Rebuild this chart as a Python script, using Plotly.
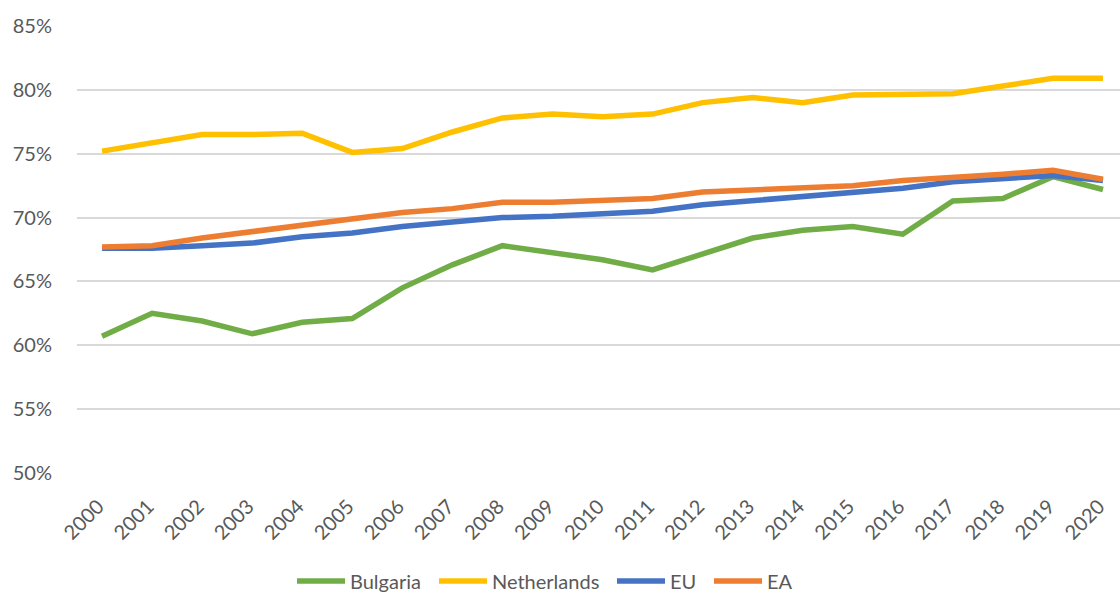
import plotly.graph_objects as go

years = list(range(2000, 2021))

bulgaria = [60.7, 62.5, 61.9, 60.9, 61.8, 62.1, 64.5, 66.3, 67.8, 67.2, 66.7,
            65.9, 67.1, 68.4, 69.0, 69.3, 68.7, 71.3, 71.5, 73.2, 72.2]
netherlands = [75.2, 75.9, 76.5, 76.5, 76.6, 75.1, 75.4, 76.7, 77.8, 78.1, 77.9,
               78.1, 79.0, 79.4, 79.0, 79.6, 79.7, 79.7, 80.3, 80.9, 80.9]
eu = [67.6, 67.6, 67.8, 68.0, 68.5, 68.8, 69.3, 69.6, 70.0, 70.1, 70.3,
      70.5, 71.0, 71.3, 71.7, 71.9, 72.3, 72.8, 73.0, 73.3, 72.9]
ea = [67.7, 67.8, 68.4, 68.9, 69.4, 69.8, 70.4, 70.7, 71.2, 71.2, 71.3,
      71.5, 72.0, 72.2, 72.4, 72.5, 72.9, 73.1, 73.4, 73.7, 73.0]

y_ticks = [50, 55, 60, 65, 70, 75, 80, 85]
y_tick_labels = [f"{v}%" for v in y_ticks]

series_names = ["Bulgaria", "Netherlands", "EU", "EA"]
series_values = [bulgaria, netherlands, eu, ea]
series_colors = ["#70AD47", "#FFC000", "#4472C4", "#ED7D31"]

FONT = "Lato, Carlito, Calibri, sans-serif"
TEXT = "#595959"

W, H = 1120, 593
M_L, M_R, M_T, M_B = 77, 0, 26, 120
PLOT_W = W - M_L - M_R
PLOT_H = H - M_T - M_B


def px_to_paper(px, py):
    """Convert page pixel position to paper coordinates of the plot area."""
    return (px - M_L) / PLOT_W, (H - M_B - py) / PLOT_H


fig = go.Figure()
for name, vals, color in zip(series_names, series_values, series_colors):
    fig.add_trace(go.Scatter(
        x=years, y=vals, name=name, mode="lines",
        line=dict(color=color, width=5.5, shape="linear"),
        showlegend=False,
    ))

# Legend row below the axis: a short thick line sample followed by the name
legend_starts = [297, 439, 617, 714]
legend_y = 581
sample_len = 48
for name, color, x0 in zip(series_names, series_colors, legend_starts):
    ax0, ay = px_to_paper(x0, legend_y)
    ax1, _ = px_to_paper(x0 + sample_len, legend_y)
    fig.add_shape(type="line", xref="paper", yref="paper",
                  x0=ax0, x1=ax1, y0=ay, y1=ay,
                  line=dict(color=color, width=5.5))
    tx, ty = px_to_paper(x0 + sample_len + 3, legend_y)
    fig.add_annotation(xref="paper", yref="paper", x=tx, y=ty,
                       text=name, showarrow=False, xanchor="left",
                       yanchor="middle",
                       font=dict(size=20, color=TEXT, family=FONT))

fig.update_layout(
    width=W, height=H,
    margin=dict(l=M_L, r=M_R, t=M_T, b=M_B),
    paper_bgcolor="white", plot_bgcolor="white",
    font=dict(family=FONT, color=TEXT, size=20),
    showlegend=False,
    xaxis=dict(
        range=[1999.5, 2020.34], tickmode="array", tickvals=years,
        ticktext=[str(y) for y in years], tickangle=-45,
        showgrid=False, zeroline=False, showline=False, ticks="",
        ticklabelstandoff=17, ticklabelshift=-4,
        tickfont=dict(size=20, color=TEXT, family=FONT),
    ),
    yaxis=dict(
        range=[50, 85], tickmode="array", tickvals=y_ticks,
        ticktext=y_tick_labels, showgrid=True, gridcolor="#D9D9D9",
        gridwidth=1.5, zeroline=False, showline=False, ticks="",
        ticklabelstandoff=24,
        tickfont=dict(size=20, color=TEXT, family=FONT),
    ),
)

fig.write_html("out.html")
